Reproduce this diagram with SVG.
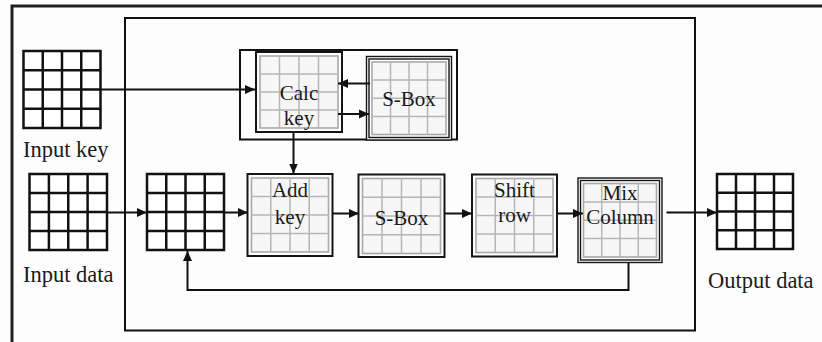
<svg xmlns="http://www.w3.org/2000/svg" width="822" height="342" viewBox="0 0 822 342">
  <style>
    .frame { fill: none; stroke: #231f20; stroke-width: 3; }
    .panel { fill: #fdfdfd; stroke: #111; stroke-width: 2; }
    .box { fill: #fff; stroke: #151515; stroke-width: 2; }
    .thin { fill: #fff; stroke: #151515; stroke-width: 1.4; }
    .gin { fill: #f7f7f7; stroke: #a9a9a9; stroke-width: 1.6; }
    .gl { fill: none; stroke: #b6b6b6; stroke-width: 1.5; }
    .mat { fill: #fff; stroke: #111; stroke-width: 2.5; }
    .ml { fill: none; stroke: #111; stroke-width: 2.5; }
    .lbl { font-size: 21px; fill: #1a1a1a; text-anchor: middle; }
    .cap { font-size: 22.5px; fill: #1a1a1a; }
    .conn { fill: none; stroke: #111; stroke-width: 2; }
  </style>
  <defs>
    <marker id="arrow" markerUnits="userSpaceOnUse" markerWidth="11" markerHeight="10" refX="10" refY="5" orient="auto">
      <path d="M0,0.5 L10,5 L0,9.5 z" fill="#111"/>
    </marker>
  </defs>

  <rect width="822" height="342" fill="#fdfdfd"/>

  <!-- page frame: top and left rules only -->
  <path class="frame" d="M12,342 V6 H822"/>

  <!-- cipher core panel -->
  <rect id="core" class="panel" x="125" y="18" width="570" height="312.5"/>

  <!-- key schedule group -->
  <g id="key-schedule">
    <rect class="panel" x="240" y="50" width="217" height="89.5"/>
  </g>

  <g font-family="'Liberation Serif', 'Times New Roman', Times, serif">
    <!-- input key state -->
    <g id="input-key">
      <rect class="mat" x="23.5" y="51" width="77" height="77"/>
      <path class="ml" d="M42.75,51 V128 M62,51 V128 M81.25,51 V128 M23.5,70.25 H100.5 M23.5,89.5 H100.5 M23.5,108.75 H100.5"/>
      <text class="cap" x="23" y="157">Input key</text>
    </g>

    <!-- input data state -->
    <g id="input-data">
      <rect class="mat" x="29.5" y="174" width="77.5" height="76"/>
      <path class="ml" d="M48.9,174 V250 M68.25,174 V250 M87.6,174 V250 M29.5,193 H107 M29.5,212 H107 M29.5,231 H107"/>
      <text class="cap" x="23" y="282">Input data</text>
    </g>

    <!-- working state -->
    <g id="state">
      <rect class="mat" x="147" y="174" width="77" height="76"/>
      <path class="ml" d="M166.25,174 V250 M185.5,174 V250 M204.75,174 V250 M147,193 H224 M147,212 H224 M147,231 H224"/>
    </g>

    <!-- output data state -->
    <g id="output-data">
      <rect class="mat" x="717" y="174" width="76" height="75"/>
      <path class="ml" d="M736,174 V249 M755,174 V249 M774,174 V249 M717,192.75 H793 M717,211.5 H793 M717,230.25 H793"/>
      <text class="cap" x="708" y="288">Output data</text>
    </g>

    <!-- Calc key -->
    <g id="calc-key">
      <rect class="box" x="256" y="52" width="86" height="80"/>
      <rect class="gin" x="260" y="56" width="78" height="72"/>
      <path class="gl" d="M279.5,56 V128 M299,56 V128 M318.5,56 V128 M260,74 H338 M260,92 H338 M260,110 H338"/>
      <text class="lbl" x="299" y="100">Calc</text>
      <text class="lbl" x="299" y="125">key</text>
    </g>

    <!-- key S-Box -->
    <g id="key-sbox">
      <rect class="thin" x="366.5" y="56.5" width="85" height="83.5"/>
      <rect class="thin" x="369" y="59" width="80" height="78.5"/>
      <rect class="gin" x="372" y="62" width="74" height="72.5"/>
      <path class="gl" d="M390.5,62 V134.5 M409,62 V134.5 M427.5,62 V134.5 M372,80.1 H446 M372,98.25 H446 M372,116.4 H446"/>
      <text class="lbl" x="409" y="106">S-Box</text>
    </g>

    <!-- Add key -->
    <g id="add-key">
      <rect class="box" x="247.5" y="174" width="85" height="82"/>
      <rect class="gin" x="251.5" y="178" width="77" height="74"/>
      <path class="gl" d="M270.75,178 V252 M290,178 V252 M309.25,178 V252 M251.5,196.5 H328.5 M251.5,215 H328.5 M251.5,233.5 H328.5"/>
      <text class="lbl" x="290" y="197">Add</text>
      <text class="lbl" x="290" y="224">key</text>
    </g>

    <!-- S-Box -->
    <g id="sbox">
      <rect class="box" x="358.5" y="174.5" width="86" height="82.5"/>
      <rect class="gin" x="362.5" y="178.5" width="78" height="75"/>
      <path class="gl" d="M382,178.5 V253.5 M401.5,178.5 V253.5 M421,178.5 V253.5 M362.5,197.25 H440.5 M362.5,216 H440.5 M362.5,234.75 H440.5"/>
      <text class="lbl" x="401.5" y="225">S-Box</text>
    </g>

    <!-- Shift row -->
    <g id="shift-row">
      <rect class="box" x="472" y="174.5" width="85" height="82"/>
      <rect class="gin" x="476" y="178.5" width="77" height="74"/>
      <path class="gl" d="M495.25,178.5 V252.5 M514.5,178.5 V252.5 M533.75,178.5 V252.5 M476,197 H553 M476,215.5 H553 M476,234 H553"/>
      <text class="lbl" x="514.5" y="197">Shift</text>
      <text class="lbl" x="514.5" y="222">row</text>
    </g>

    <!-- Mix Column -->
    <g id="mix-column">
      <rect class="thin" x="578" y="178" width="84" height="84.5"/>
      <rect class="thin" x="580.5" y="180.5" width="79" height="79.5"/>
      <rect class="gin" x="583.5" y="183.5" width="73" height="73.5"/>
      <path class="gl" d="M601.75,183.5 V257 M620,183.5 V257 M638.25,183.5 V257 M583.5,201.9 H656.5 M583.5,220.25 H656.5 M583.5,238.6 H656.5"/>
      <text class="lbl" x="620" y="200" font-size="19.5">Mix</text>
      <text class="lbl" x="620" y="223.5" font-size="19.5">Column</text>
    </g>
  </g>

  <!-- connectors -->
  <g id="connectors">
    <path class="conn" d="M101,89.5 H255" marker-end="url(#arrow)"/>
    <path class="conn" d="M370,83.5 H338" marker-end="url(#arrow)"/>
    <path class="conn" d="M338,114 H369" marker-end="url(#arrow)"/>
    <path class="conn" d="M293.5,132 V173.5" marker-end="url(#arrow)"/>
    <path class="conn" d="M107,212.5 H147" marker-end="url(#arrow)"/>
    <path class="conn" d="M224,212.5 H248" marker-end="url(#arrow)"/>
    <path class="conn" d="M332.5,213.5 H359" marker-end="url(#arrow)"/>
    <path class="conn" d="M444.5,213.5 H472" marker-end="url(#arrow)"/>
    <path class="conn" d="M557,213.5 H583" marker-end="url(#arrow)"/>
    <path class="conn" d="M666.5,212.5 H717" marker-end="url(#arrow)"/>
    <path class="conn" d="M628.5,262.5 V290 H187.5 V251" marker-end="url(#arrow)"/>
  </g>
</svg>
